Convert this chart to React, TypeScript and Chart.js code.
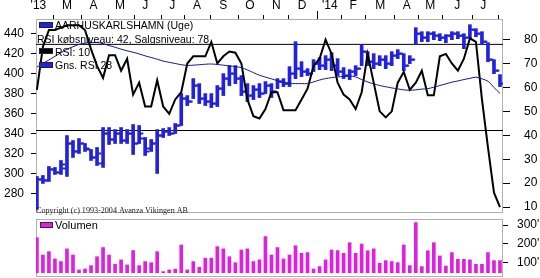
import React, { useEffect, useRef } from "react";
import { Chart, registerables } from "chart.js";
Chart.register(...registerables);

// ---------- data ----------
const weeks = Array.from({ length: 78 }, (_, i) => i);

const priceLow = [264,290,292,299,299,297,316,320,322,313,308,306,329,330,330,330,319,330,318,322,300,336,338,340,348,368,375,370,368,366,367,378,388,390,378,372,374,376,380,376,385,387,387,395,397,398,402,404,404,403,398,395,394,398,408,408,405,408,405,408,415,403,410,429,432,432,434,433,431,434,435,425,436,437,429,412,400,387];
const priceHigh = [297,298,307,306,313,338,333,335,330,324,326,346,346,344,346,344,349,348,336,334,344,345,346,350,380,378,395,390,380,380,388,400,408,408,398,390,388,390,392,390,395,395,407,432,412,405,414,416,418,421,415,406,404,408,429,422,420,418,418,422,424,420,418,446,442,442,442,440,439,442,442,440,449,445,442,431,414,399];
const priceOpen = [268,294,293,304,301,305,330,322,330,324,316,310,340,334,340,333,340,330,335,325,330,338,342,340,348,375,372,388,375,372,370,385,395,400,395,382,378,384,380,388,382,392,390,400,405,402,400,410,408,414,408,402,398,402,405,422,412,410,414,410,418,420,408,414,440,436,440,438,436,438,440,438,436,444,440,432,414,403];
const priceClose = [294,293,304,301,309,330,322,330,325,316,320,340,334,340,333,340,330,340,322,330,338,342,340,348,375,372,388,375,372,370,385,395,400,395,382,378,384,380,388,382,392,390,400,405,402,400,410,408,414,408,402,398,402,405,422,412,410,414,410,418,420,408,414,440,436,440,438,436,438,440,438,436,444,440,432,414,403,390];

const rsi = [59,77,84,84,85,86,86,86,84,76,69,64,73.5,73.5,67,72,57,62,52,52,63,52,49,55,58,70,73,73,73,79,70,73,75,74.5,70,55,48,47,51,58,58,50.5,50.5,50.5,55,59.5,69,72,80,74,62,57,55,51,58,74,62,50,47.5,50,62,66.5,59,62,67,56.7,56.7,73,74,70,67,72,80.5,79,55,35,16,10];
const rsiAvg = [68.5,70,71.5,73,74.5,76,77,78,78.5,78.7,78.8,78.3,77.5,76.8,76,75.3,74.7,74,73.2,72.5,71.8,71,70.5,70,69.5,69.2,69.3,69.5,69.7,69.8,69.6,69.3,69,68.7,68.3,67.3,66.2,65.1,64.3,63.6,62.8,62.2,61.7,61.6,61.6,61.6,62.3,63.1,63.7,64.1,64.4,64.6,64.8,64.4,63.3,62.3,61.5,60.8,60.3,59.8,59.4,59,58.8,59,59.3,59.5,60.1,60.8,61.5,62.2,62.7,63.3,63.8,64.3,63.6,62.6,60,57.5];
const volume = [232,139,157,118,104,172,139,59,64,82,130,179,139,89,113,86,163,82,104,98,157,50,59,63,193,59,104,73,122,122,184,172,130,98,166,172,104,113,238,139,179,118,139,189,148,152,64,77,113,166,163,148,205,148,198,162,172,95,109,104,98,193,82,313,77,162,205,134,80,152,116,116,113,89,89,152,109,109];

const buyLevel = 42;
const sellLevel = 78;

const monthLabels = ["'13","M","A","M","J","J","A","S","O","N","D","'14","F","M","A","M","J","J"];
const monthLabelPos = [0.25,5.0,9.4,13.8,18.0,22.5,26.6,31.0,35.4,39.8,44.1,48.7,52.6,57.1,61.5,65.4,69.9,74.2];
const monthTickPos = [2.7,7.4,11.85,16.2,20.7,24.6,28.8,33.6,37.6,41.8,46.6,50.7,54.7,59.5,63.5,67.5,72.5,76.7];
const yearTickPos = [46.6];

const priceTicks = [280,300,320,340,360,380,400,420,440];
const rsiTicks = [10,20,30,40,50,60,70,80];
const volumeTicks = [100,200,300];

const legendTitle = "AARHUSKARLSHAMN (Uge)";
const legendLevels = `RSI købsniveau: ${buyLevel}, Salgsniveau: ${sellLevel}`;
const legendRsi = "RSI: 10";
const legendAvg = "Gns. RSI 28";
const legendVolume = "Volumen";
const copyright = "Copyright (c) 1993-2004 Avanza Vikingen AB";

// ---------- style ----------
const X_MIN = -0.15;
const X_MAX = 77.5;
const BLUE = "#2222dd";
const AVG_BLUE = "#14149c";
const MAGENTA = "#e020e0";
const FRAME = "#b0b0b0";
const AXIS_FONT = { family: "'Liberation Sans', Arial, sans-serif", size: 12 };
const LEGEND_FONT = "10.5px 'Liberation Sans', Arial, sans-serif";

const noPadV = (s: any) => {
  s.paddingTop = 0;
  s.paddingBottom = 0;
};
const noPadH = (s: any) => {
  s.paddingLeft = 0;
  s.paddingRight = 0;
};

const framePlugin = {
  id: "frame",
  beforeDatasetsDraw(chart: any) {
    const { ctx, chartArea: a } = chart;
    ctx.save();
    ctx.strokeStyle = FRAME;
    ctx.lineWidth = 1;
    ctx.strokeRect(a.left + 0.5, a.top + 0.5, a.right - a.left - 1, a.bottom - a.top);
    ctx.restore();
  },
};

const mainDecor = {
  id: "mainDecor",
  afterDraw(chart: any) {
    const { ctx } = chart;
    ctx.save();
    const xt = chart.scales.xt;
    ctx.strokeStyle = "#000";
    ctx.lineWidth = 1;
    yearTickPos.forEach((v) => {
      const px = Math.round(xt.getPixelForValue(v)) + 0.5;
      ctx.beginPath();
      ctx.moveTo(px, 11);
      ctx.lineTo(px, 19);
      ctx.stroke();
    });
    ctx.font = LEGEND_FONT;
    ctx.textBaseline = "alphabetic";
    const box = (y: number, color: string) => {
      ctx.fillStyle = color;
      ctx.fillRect(39, y, 14, 6);
      ctx.strokeStyle = "#202040";
      ctx.strokeRect(39.5, y + 0.5, 13, 5);
    };
    box(22, BLUE);
    ctx.fillStyle = "#000";
    ctx.fillText(legendTitle, 55, 29);
    ctx.fillText(legendLevels, 37, 42.5);
    box(48, "#000");
    ctx.fillStyle = "#000";
    ctx.fillText(legendRsi, 55, 55.5);
    box(62, BLUE);
    ctx.fillStyle = "#000";
    ctx.fillText(legendAvg, 55, 68.5);
    ctx.font = "9px 'Liberation Serif', serif";
    ctx.fillStyle = "#202020";
    ctx.fillText(copyright, 36, 213, 152);
    ctx.restore();
  },
};

const volDecor = {
  id: "volDecor",
  afterDraw(chart: any) {
    const { ctx } = chart;
    ctx.save();
    ctx.fillStyle = MAGENTA;
    ctx.fillRect(40, 4, 13, 6);
    ctx.strokeStyle = "#402040";
    ctx.strokeRect(40.5, 4.5, 12, 5);
    ctx.font = "11px 'Liberation Sans', Arial, sans-serif";
    ctx.fillStyle = "#000";
    ctx.fillText(legendVolume, 55, 10.5);
    ctx.restore();
  },
};

export default function App() {
  const mainRef = useRef<HTMLCanvasElement>(null);
  const volRef = useRef<HTMLCanvasElement>(null);

  useEffect(() => {
    const main = new Chart(mainRef.current!, {
      type: "bar",
      data: {
        datasets: [
          {
            type: "line",
            data: [{ x: X_MIN, y: buyLevel }, { x: X_MAX, y: buyLevel }],
            yAxisID: "yR",
            xAxisID: "x",
            borderColor: "#000",
            borderWidth: 1,
            pointRadius: 0,
            order: 6,
          },
          {
            type: "line",
            data: [{ x: X_MIN, y: sellLevel }, { x: X_MAX, y: sellLevel }],
            yAxisID: "yR",
            xAxisID: "x",
            borderColor: "#000",
            borderWidth: 1,
            pointRadius: 0,
            order: 6,
          },
          {
            type: "bar",
            data: weeks.map((i) => ({ x: i, y: [priceLow[i], priceHigh[i]] })),
            yAxisID: "yP",
            xAxisID: "x",
            backgroundColor: BLUE,
            barThickness: 3,
            order: 5,
          },
          {
            type: "line",
            data: weeks.map((i) => ({ x: i - 0.4, y: priceOpen[i] })),
            yAxisID: "yP",
            xAxisID: "x",
            showLine: false,
            pointStyle: "line",
            pointRadius: 1.8,
            pointBorderWidth: 2,
            borderColor: BLUE,
            backgroundColor: BLUE,
            order: 4,
          },
          {
            type: "line",
            data: weeks.map((i) => ({ x: i + 0.4, y: priceClose[i] })),
            yAxisID: "yP",
            xAxisID: "x",
            showLine: false,
            pointStyle: "line",
            pointRadius: 1.8,
            pointBorderWidth: 2,
            borderColor: BLUE,
            backgroundColor: BLUE,
            order: 4,
          },
          {
            type: "line",
            data: weeks.map((i) => ({ x: i, y: rsi[i] })),
            yAxisID: "yR",
            xAxisID: "x",
            borderColor: "#000",
            borderWidth: 2,
            pointRadius: 0,
            tension: 0,
            order: 2,
          },
          {
            type: "line",
            data: weeks.map((i) => ({ x: i, y: rsiAvg[i] })),
            yAxisID: "yR",
            xAxisID: "x",
            borderColor: AVG_BLUE,
            borderWidth: 1,
            pointRadius: 0,
            tension: 0.3,
            order: 1,
          },
        ],
      } as any,
      options: {
        responsive: false,
        animation: false,
        events: [],
        layout: { padding: { top: 0, bottom: 2, left: 0, right: 0 } },
        plugins: { legend: { display: false }, tooltip: { enabled: false } },
        scales: {
          x: {
            type: "linear",
            position: "top",
            offset: false,
            min: X_MIN,
            max: X_MAX,
            weight: 1,
            afterBuildTicks: (s: any) => {
              s.ticks = monthLabelPos.map((v) => ({ value: v }));
            },
            afterFit: (s: any) => {
              s.height = 15;
              noPadH(s);
            },
            grid: { display: false, drawTicks: false, offset: false },
            border: { display: false },
            ticks: {
              autoSkip: false,
              maxRotation: 0,
              padding: 2,
              color: "#000",
              font: AXIS_FONT,
              callback: (_v: any, idx: number) => monthLabels[idx],
            },
          },
          xt: {
            type: "linear",
            position: "top",
            offset: false,
            min: X_MIN,
            max: X_MAX,
            weight: 0,
            afterBuildTicks: (s: any) => {
              s.ticks = monthTickPos.map((v) => ({ value: v }));
            },
            afterFit: (s: any) => {
              s.height = 4;
              noPadH(s);
            },
            grid: { drawOnChartArea: false, drawTicks: true, tickLength: 4, color: "#000", tickColor: "#000", offset: false },
            border: { display: false },
            ticks: { display: false },
          },
          yP: {
            type: "linear",
            position: "left",
            min: 261.4,
            max: 454.7,
            afterBuildTicks: (s: any) => {
              s.ticks = priceTicks.map((v) => ({ value: v }));
            },
            afterFit: (s: any) => {
              s.width = 36;
              noPadV(s);
            },
            grid: { drawOnChartArea: false, tickLength: 5, tickColor: "#000" },
            border: { display: false },
            ticks: { padding: 7, color: "#000", font: AXIS_FONT },
          },
          yR: {
            type: "linear",
            position: "right",
            min: 7.95,
            max: 88.6,
            afterBuildTicks: (s: any) => {
              s.ticks = rsiTicks.map((v) => ({ value: v }));
            },
            afterFit: (s: any) => {
              s.width = 37;
              noPadV(s);
            },
            grid: { drawOnChartArea: false, tickLength: 7, tickColor: "#000" },
            border: { display: false },
            ticks: { padding: 14, color: "#000", font: AXIS_FONT },
          },
        },
      } as any,
      plugins: [framePlugin, mainDecor],
    });

    const vol = new Chart(volRef.current!, {
      type: "bar",
      data: {
        datasets: [
          {
            data: weeks.map((i) => ({ x: i, y: volume[i] })),
            base: 44,
            backgroundColor: MAGENTA,
            barThickness: 3,
            yAxisID: "yV",
            xAxisID: "x",
          },
        ],
      } as any,
      options: {
        responsive: false,
        animation: false,
        events: [],
        layout: { padding: { top: 1, bottom: 2, left: 36, right: 0 } },
        plugins: { legend: { display: false }, tooltip: { enabled: false } },
        scales: {
          x: { type: "linear", display: false, offset: false, min: X_MIN, max: X_MAX, grid: { offset: false } },
          yV: {
            type: "linear",
            position: "right",
            min: 26.5,
            max: 332.2,
            afterBuildTicks: (s: any) => {
              s.ticks = volumeTicks.map((v) => ({ value: v }));
            },
            afterFit: (s: any) => {
              s.width = 37;
              noPadV(s);
            },
            grid: { drawOnChartArea: false, tickLength: 5, tickColor: "#000" },
            border: { display: false },
            ticks: {
              padding: 9,
              color: "#000",
              font: AXIS_FONT,
              callback: (v: any) => `${v}'`,
            },
          },
        },
      } as any,
      plugins: [framePlugin, volDecor],
    });

    return () => {
      main.destroy();
      vol.destroy();
    };
  }, []);

  return (
    <div style={{ position: "fixed", left: 0, top: 0, width: 540, height: 278, background: "#fff" }}>
      <canvas ref={mainRef} width={540} height={218} style={{ position: "absolute", left: 0, top: 0, width: 540, height: 218 }} />
      <canvas ref={volRef} width={540} height={60} style={{ position: "absolute", left: 0, top: 218, width: 540, height: 60 }} />
    </div>
  );
}
